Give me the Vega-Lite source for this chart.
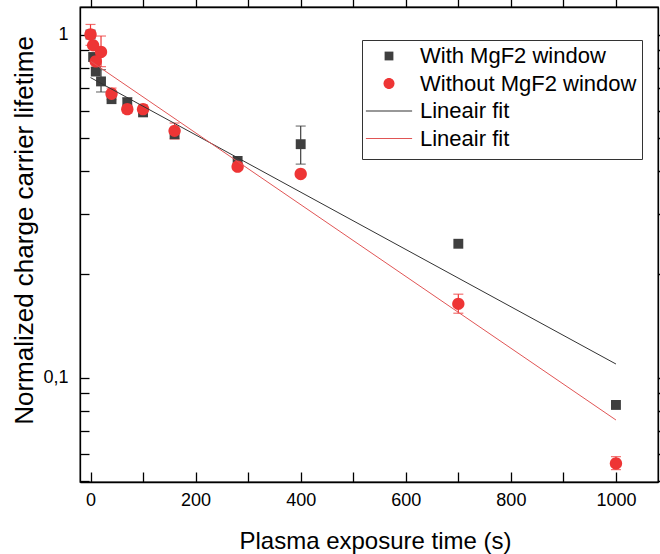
{
  "$schema": "https://vega.github.io/schema/vega-lite/v6.json",
  "width": 578,
  "height": 475,
  "autosize": "none",
  "padding": {"left": 80, "top": 7, "right": 2, "bottom": 72},
  "background": "white",
  "config": {
    "font": "Liberation Sans",
    "view": {"stroke": "#000", "strokeWidth": 1.3}
  },
  "datasets": {
    "pts": [
      {"series": "With MgF2 window", "t": 0, "v": 1.0},
      {"series": "With MgF2 window", "t": 5, "v": 0.86},
      {"series": "With MgF2 window", "t": 10, "v": 0.78},
      {"series": "With MgF2 window", "t": 20, "v": 0.73, "lo": 0.68, "hi": 0.79},
      {"series": "With MgF2 window", "t": 40, "v": 0.648},
      {"series": "With MgF2 window", "t": 70, "v": 0.634, "lo": 0.616, "hi": 0.654},
      {"series": "With MgF2 window", "t": 100, "v": 0.593},
      {"series": "With MgF2 window", "t": 160, "v": 0.512},
      {"series": "With MgF2 window", "t": 280, "v": 0.428},
      {"series": "With MgF2 window", "t": 400, "v": 0.479, "lo": 0.419, "hi": 0.541},
      {"series": "With MgF2 window", "t": 700, "v": 0.2455},
      {"series": "With MgF2 window", "t": 1000, "v": 0.0832},
      {"series": "Without MgF2 window", "t": 0, "v": 1.0, "lo": 0.93, "hi": 1.07},
      {"series": "Without MgF2 window", "t": 5, "v": 0.93},
      {"series": "Without MgF2 window", "t": 10, "v": 0.835, "lo": 0.8, "hi": 0.87},
      {"series": "Without MgF2 window", "t": 20, "v": 0.89, "lo": 0.806, "hi": 0.99},
      {"series": "Without MgF2 window", "t": 40, "v": 0.672, "lo": 0.646, "hi": 0.698},
      {"series": "Without MgF2 window", "t": 70, "v": 0.606, "lo": 0.59, "hi": 0.622},
      {"series": "Without MgF2 window", "t": 100, "v": 0.606, "lo": 0.59, "hi": 0.623},
      {"series": "Without MgF2 window", "t": 160, "v": 0.524, "lo": 0.496, "hi": 0.552},
      {"series": "Without MgF2 window", "t": 280, "v": 0.412},
      {"series": "Without MgF2 window", "t": 400, "v": 0.392},
      {"series": "Without MgF2 window", "t": 700, "v": 0.164, "lo": 0.154, "hi": 0.175},
      {"series": "Without MgF2 window", "t": 1000, "v": 0.0562, "lo": 0.0539, "hi": 0.0588}
    ],
    "fits": [
      {"series": "Lineair fit (with)", "t": 0, "v": 0.749},
      {"series": "Lineair fit (with)", "t": 1000, "v": 0.1095},
      {"series": "Lineair fit (without)", "t": 0, "v": 0.837},
      {"series": "Lineair fit (without)", "t": 1000, "v": 0.0752}
    ]
  },
  "resolve": {"axis": {"x": "independent", "y": "independent"}},
  "layer": [
    {
      "data": {"name": "pts"},
      "transform": [{"filter": "datum.series === 'With MgF2 window' && datum.lo != null"}],
      "mark": {"type": "errorbar", "ticks": true, "size": 10, "thickness": 1.2, "color": "#3f3f3f"},
      "encoding": {
        "x": {"field": "t", "type": "quantitative", "axis": null, "scale": {"domain": [-20, 1080], "nice": false, "zero": false}},
        "y": {"field": "lo", "type": "quantitative", "axis": null, "scale": {"type": "log", "domain": [0.0496, 1.203], "nice": false}},
        "y2": {"field": "hi"}
      }
    },
    {
      "data": {"name": "pts"},
      "transform": [{"filter": "datum.series === 'Without MgF2 window' && datum.lo != null"}],
      "mark": {"type": "errorbar", "ticks": true, "size": 10, "thickness": 1.2, "color": "#ee3535"},
      "encoding": {
        "x": {"field": "t", "type": "quantitative", "axis": null},
        "y": {"field": "lo", "type": "quantitative", "axis": null},
        "y2": {"field": "hi"}
      }
    },
    {
      "data": {"name": "pts"},
      "mark": {"type": "point", "filled": true, "opacity": 1, "strokeWidth": 0},
      "encoding": {
        "x": {"field": "t", "type": "quantitative",
          "axis": {
            "orient": "bottom", "title": "Plasma exposure time (s)",
            "values": [0, 100, 200, 300, 400, 500, 600, 700, 800, 900, 1000],
            "labelExpr": "datum.value % 200 === 0 ? '' + datum.value : ''",
            "tickSize": -10,
            "encode": {"ticks": {"update": {"y2": {"signal": "datum.value % 200 === 0 ? -10 : -5"}}}},
            "tickColor": "#000", "tickWidth": 1.3, "domainColor": "#000", "domainWidth": 1.3,
            "labelFontSize": 18, "labelColor": "#000", "labelPadding": 19, "labelFlush": false, "labelOverlap": false, "labelBound": false,
            "grid": false, "titleFontSize": 24, "titleFontWeight": "normal", "titleColor": "#000",
            "titleX": 295, "titleY": 66, "titleBaseline": "alphabetic", "titleAlign": "center"
          }
        },
        "y": {"field": "v", "type": "quantitative",
          "axis": {
            "orient": "left", "title": "Normalized charge carrier lifetime",
            "values": [0.05, 0.06, 0.07, 0.08, 0.09, 0.1, 0.2, 0.3, 0.4, 0.5, 0.6, 0.7, 0.8, 0.9, 1],
            "labelExpr": "datum.value == 1 ? '1' : (datum.value == 0.1 ? '0,1' : '')",
            "tickSize": -9,
            "encode": {"ticks": {"update": {"x2": {"signal": "datum.value == 1 || datum.value == 0.1 ? 9 : 5"}}}},
            "tickColor": "#000", "tickWidth": 1.3, "domainColor": "#000", "domainWidth": 1.3,
            "labelFontSize": 18, "labelColor": "#000", "labelPadding": 21, "labelFlush": false, "labelOverlap": false, "labelBound": false,
            "grid": false, "titleFontSize": 26, "titleFontWeight": "normal", "titleColor": "#000",
            "titleAngle": 270, "titleX": -48, "titleY": 223, "titleBaseline": "alphabetic", "titleAlign": "center"
          }
        },
        "color": {"field": "series", "type": "nominal",
          "scale": {"domain": ["With MgF2 window", "Without MgF2 window", "Lineair fit (with)", "Lineair fit (without)"],
                    "range": ["#3f3f3f", "#ee3535", "#333333", "#e05555"]},
          "legend": {
            "orient": "none", "legendX": 282, "legendY": 33,
            "title": " ", "titleOrient": "bottom", "titleFontSize": 4, "titlePadding": 0,
            "strokeColor": "#333", "fillColor": "white", "padding": 5,
            "labelFontSize": 22, "labelColor": "#000", "labelOffset": 20, "rowPadding": 5.5, "labelLimit": 400,
            "symbolSize": 484, "symbolOffset": 11, "symbolStrokeWidth": 0,
            "labelExpr": "indexof(datum.label, 'Lineair') == 0 ? 'Lineair fit' : datum.label"
          }
        },
        "shape": {"field": "series", "type": "nominal",
          "scale": {"domain": ["With MgF2 window", "Without MgF2 window", "Lineair fit (with)", "Lineair fit (without)"],
                    "range": ["M-0.4,-0.4H0.4V0.4H-0.4Z", "M-0.5,0A0.5,0.5,0,1,1,0.5,0A0.5,0.5,0,1,1,-0.5,0Z", "M-2.1,-0.05H2.1V0.05H-2.1Z", "M-2.1,-0.05H2.1V0.05H-2.1Z"]},
          "legend": {
            "orient": "none", "legendX": 282, "legendY": 33,
            "title": " ", "titleOrient": "bottom", "titleFontSize": 4, "titlePadding": 0,
            "strokeColor": "#333", "fillColor": "white", "padding": 5,
            "labelFontSize": 22, "labelColor": "#000", "labelOffset": 20, "rowPadding": 5.5, "labelLimit": 400,
            "symbolSize": 484, "symbolOffset": 11, "symbolStrokeWidth": 0,
            "labelExpr": "indexof(datum.label, 'Lineair') == 0 ? 'Lineair fit' : datum.label"
          }
        },
        "size": {"value": 610}
      }
    },
    {
      "data": {"name": "fits"},
      "transform": [{"filter": "datum.series === 'Lineair fit (with)'"}],
      "mark": {"type": "line", "color": "#333333", "strokeWidth": 1},
      "encoding": {
        "x": {"field": "t", "type": "quantitative",
          "axis": {
            "orient": "top", "title": null, "labels": false,
            "values": [0, 100, 200, 300, 400, 500, 600, 700, 800, 900, 1000],
            "tickSize": 10,
            "encode": {"ticks": {"update": {"y2": {"signal": "datum.value % 200 === 0 ? 10 : 5"}}}},
            "tickColor": "#000", "tickWidth": 1.3, "domainColor": "#000", "domainWidth": 1.3, "grid": false
          }
        },
        "y": {"field": "v", "type": "quantitative",
          "axis": {
            "orient": "right", "title": null, "labels": false,
            "values": [0.05, 0.06, 0.07, 0.08, 0.09, 0.1, 0.2, 0.3, 0.4, 0.5, 0.6, 0.7, 0.8, 0.9, 1],
            "tickSize": 9,
            "encode": {"ticks": {"update": {"x2": {"signal": "datum.value == 1 || datum.value == 0.1 ? -9 : -5"}}}},
            "tickColor": "#000", "tickWidth": 1.3, "domainColor": "#000", "domainWidth": 1.3, "grid": false
          }
        }
      }
    },
    {
      "data": {"name": "fits"},
      "transform": [{"filter": "datum.series === 'Lineair fit (without)'"}],
      "mark": {"type": "line", "color": "#e05555", "strokeWidth": 1},
      "encoding": {
        "x": {"field": "t", "type": "quantitative", "axis": null},
        "y": {"field": "v", "type": "quantitative", "axis": null}
      }
    }
  ]
}
